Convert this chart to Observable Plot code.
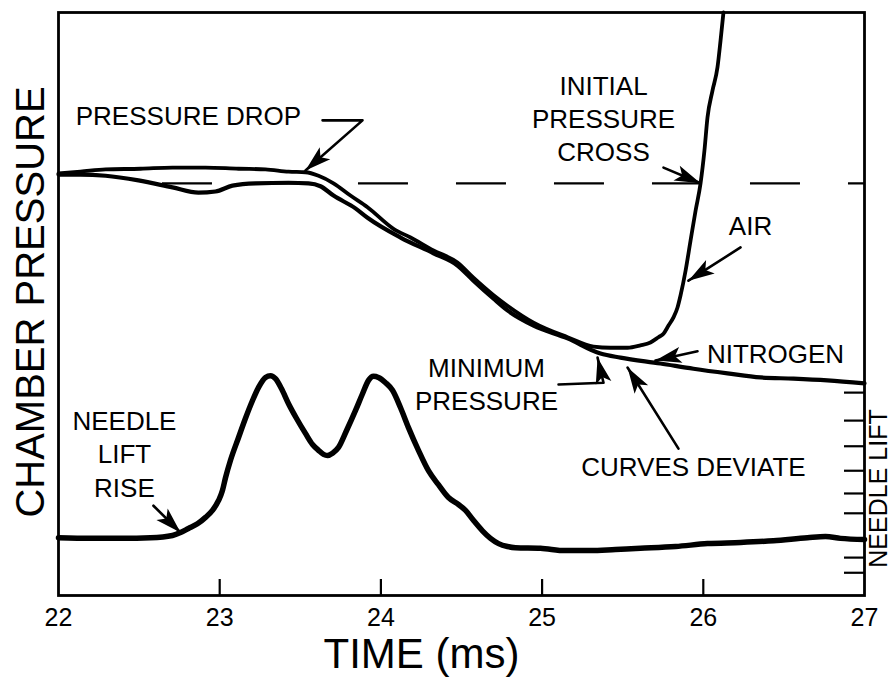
<!DOCTYPE html>
<html><head><meta charset="utf-8">
<script src="https://cdn.jsdelivr.net/npm/d3@7"></script>
<script src="https://cdn.jsdelivr.net/npm/@observablehq/plot@0.6"></script>
<style>html,body{margin:0;padding:0;background:#fff} #chart svg{display:block}</style>
</head><body><div id="chart"></div>
<script>
// ---- Data (time in ms, pressure / lift in arbitrary chart units 0–100) ----
const timeAir = [22.000,22.136,22.292,22.509,22.707,22.912,23.117,23.284,23.427,23.532,23.613,23.706,23.811,23.917,24.078,24.184,24.326,24.475,24.574,24.699,24.785,24.947,25.158,25.319,25.424,25.530,25.610,25.672,25.722,25.753,25.784,25.815,25.840,25.859,25.890,25.921,25.952,25.983,26.007,26.026,26.057,26.088,26.107,26.125];
const pressureAir = [72.4,72.7,73.1,73.2,73.4,73.4,73.2,73.1,72.7,72.6,72.0,70.7,68.6,66.6,62.9,61.4,59.2,57.1,54.5,51.5,49.7,46.8,44.3,42.7,42.5,42.5,42.9,43.4,44.3,44.9,46.3,47.7,49.4,51.5,55.7,60.9,66.0,70.7,76.3,82.0,86.6,90.6,95.2,100.0];

const timeNitrogen = [22.000,22.136,22.292,22.496,22.707,22.868,22.974,23.079,23.222,23.427,23.551,23.625,23.706,23.842,23.917,24.122,24.326,24.475,24.574,24.699,24.785,24.947,25.158,25.362,25.486,25.734,25.939,26.150,26.355,26.560,26.770,27.000];
const pressureNitrogen = [72.2,72.2,72.0,71.2,70.0,69.1,69.3,70.3,70.7,70.8,70.7,70.2,68.6,66.4,64.8,61.4,58.7,56.6,54.0,50.9,48.9,46.3,44.1,41.5,40.8,39.8,38.9,38.1,37.4,37.2,36.9,36.4];

const timeNeedle = [22.000,22.199,22.397,22.571,22.707,22.757,22.806,22.862,22.912,22.955,22.993,23.017,23.036,23.067,23.117,23.160,23.203,23.241,23.284,23.315,23.346,23.383,23.427,23.476,23.532,23.576,23.613,23.644,23.669,23.700,23.737,23.787,23.842,23.886,23.923,23.954,23.985,24.029,24.072,24.122,24.171,24.233,24.295,24.357,24.419,24.481,24.525,24.574,24.630,24.680,24.730,24.785,24.835,24.990,25.145,25.300,25.455,25.610,25.828,26.026,26.231,26.435,26.646,26.758,26.851,27.000];
const needleLift = [9.9,9.8,9.8,9.9,10.3,10.8,11.5,12.3,13.4,14.6,16.3,18.0,20.2,23.2,27.1,30.4,33.4,35.7,37.4,37.7,37.2,35.5,32.9,30.4,27.8,25.9,24.9,24.2,24.0,24.4,25.4,28.3,31.7,34.6,36.9,37.6,37.4,36.5,35.2,32.2,28.8,24.9,21.4,19.0,16.8,15.6,14.6,12.9,11.1,9.8,8.9,8.4,8.2,8.1,7.7,7.7,7.9,8.1,8.4,8.9,9.1,9.4,9.9,10.1,9.8,9.6];

const xTickLabels = [22, 23, 24, 25, 26, 27];
const xInnerTicks = [23, 24, 25, 26];
const needleTicks = [34.8, 30.0, 25.6, 21.4, 17.5, 14.1, 9.6, 6.5, 3.9];
const initialPressure = 70.7;
const dashStart = 22.645;

// annotations
const noteText = ["PRESSURE DROP", "INITIAL\nPRESSURE\nCROSS", "AIR", "NITROGEN", "MINIMUM\nPRESSURE", "CURVES DEVIATE", "NEEDLE\nLIFT\nRISE"];
const noteTime = [22.806, 25.381, 26.293, 26.448, 24.655, 25.939, 22.409];
const notePressure = [82.5, 82.0, 63.6, 41.7, 36.5, 22.3, 24.5];

// arrow leader paths (time, value); last point is the arrow tip
const leaderTime = [
  [23.638, 23.886, 23.532],
  [25.753, 25.983],
  [26.231, 25.908],
  [25.964, 25.703],
  [25.102, 25.381, 25.344],
  [25.846, 25.530],
  [22.589, 22.757]
];
const leaderPressure = [
  [81.5, 81.5, 72.9],
  [73.4, 70.7],
  [59.7, 54.0],
  [41.9, 40.3],
  [36.2, 36.5, 40.8],
  [25.2, 39.1],
  [15.4, 10.8]
];

// ---- Layout ----
const W = 890, H = 677;
const mL = 58, mR = 26, mT = 12, mB = 82;
const frameW = W - mL - mR, frameH = H - mT - mB;
const xDomain = [22, 27], yDomain = [0, 100];

const rows = (ts, vs) => ts.map((t, i) => ({t, v: vs[i]}));
const air = rows(timeAir, pressureAir);
const nitrogen = rows(timeNitrogen, pressureNitrogen);
const needle = rows(timeNeedle, needleLift);
const notes = noteText.map((s, i) => ({s, t: noteTime[i], v: notePressure[i]}));
const leaders = leaderTime.flatMap((ts, k) => ts.map((t, i) => ({k, t, v: leaderPressure[k][i]})));

const sx = Plot.scale({x: {domain: xDomain, range: [mL, W - mR]}});
const sy = Plot.scale({y: {domain: yDomain, range: [H - mB, mT]}});
const heads = leaderTime.map((ts, k) => {
  const n = ts.length, vs = leaderPressure[k];
  const dx = sx.apply(ts[n - 1]) - sx.apply(ts[n - 2]);
  const dy = sy.apply(vs[n - 1]) - sy.apply(vs[n - 2]);
  return {t: ts[n - 1], v: vs[n - 1], angle: Math.atan2(dx, -dy) * 180 / Math.PI};
});

const arrowHead = {
  draw(ctx) {
    ctx.moveTo(0, 0);
    ctx.lineTo(-8, 26);
    ctx.lineTo(0, 20);
    ctx.lineTo(8, 26);
    ctx.closePath();
  }
};

const font = "'Liberation Sans', Arial, Helvetica, sans-serif";

const chart = Plot.plot({
  width: W, height: H,
  marginLeft: mL, marginRight: mR, marginTop: mT, marginBottom: mB,
  style: {fontFamily: font, background: "white", color: "black", overflow: "visible"},
  x: {domain: xDomain},
  y: {domain: yDomain, axis: null},
  marks: [
    Plot.ruleY([initialPressure], {x1: dashStart, x2: 27, stroke: "black", strokeWidth: 2.2, strokeDasharray: "50,48"}),
    Plot.line(nitrogen, {x: "t", y: "v", stroke: "black", strokeWidth: 4.2, curve: "monotone-x", strokeLinejoin: "round"}),
    Plot.line(air, {x: "t", y: "v", stroke: "black", strokeWidth: 3.8, curve: "monotone-x", strokeLinejoin: "round"}),
    Plot.line(needle, {x: "t", y: "v", stroke: "black", strokeWidth: 5.5, curve: "monotone-x", strokeLinejoin: "round"}),
    Plot.line(leaders, {x: "t", y: "v", z: "k", stroke: "black", strokeWidth: 2.6, curve: "linear"}),
    Plot.dot(heads, {x: "t", y: "v", rotate: "angle", symbol: arrowHead, r: 5, fill: "black", stroke: "none"}),
    Plot.frame({stroke: "black", strokeWidth: 2.8}),
    Plot.tickX(xInnerTicks, {x: d => d, insetTop: frameH - 16, stroke: "black", strokeWidth: 2.2}),
    Plot.tickY(needleTicks, {y: d => d, insetLeft: frameW - 20, stroke: "black", strokeWidth: 2.2}),
    Plot.axisX({ticks: xTickLabels, tickSize: 0, tickPadding: 13, fontSize: 25, tickFormat: d => String(d), label: null}),
    Plot.text(notes, {x: "t", y: "v", text: "s", fontSize: 26, lineHeight: 1.28, textAnchor: "middle", lineAnchor: "middle"}),
    Plot.text(["CHAMBER PRESSURE"], {frameAnchor: "left", textAnchor: "middle", lineAnchor: "middle", rotate: -90, dx: -27, dy: -2, fontSize: 40}),
    Plot.text(["TIME (ms)"], {frameAnchor: "bottom", textAnchor: "middle", lineAnchor: "middle", dx: -40, dy: 59, fontSize: 42}),
    Plot.text(["NEEDLE LIFT"], {frameAnchor: "right", textAnchor: "middle", lineAnchor: "middle", rotate: -90, dx: 14, dy: 184.5, fontSize: 25})
  ]
});
document.getElementById("chart").appendChild(chart);
</script>
</body></html>
